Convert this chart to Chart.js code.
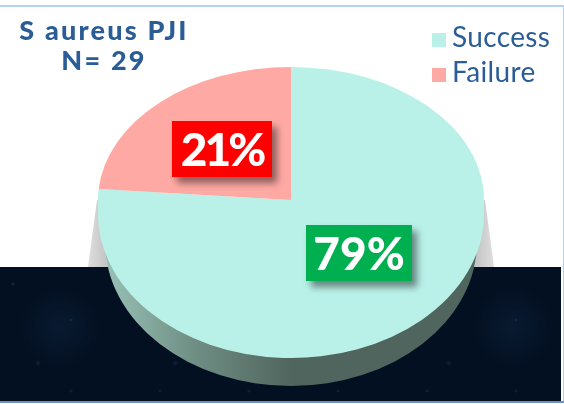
<!DOCTYPE html>
<html>
<head>
<meta charset="utf-8">
<script src="https://cdn.jsdelivr.net/npm/chart.js@4"></script>
<style>
body { margin: 0; background: #fff; width: 564px; height: 404px; overflow: hidden; position: relative; font-family: Lato, sans-serif; }
.frame { position: absolute; left: -3px; top: 5px; width: 564px; height: 394px; border: 2px solid #b7cff0; }
.band {
    position: absolute; left: 0; top: 267px; width: 561px; height: 134px; background-color: #031022;
    background-image:
        radial-gradient(circle 2px at 13px 17px, rgba(70,100,130,.4) 0, transparent 100%),
        radial-gradient(circle 2px at 71px 53px, rgba(60,90,120,.35) 0, transparent 100%),
        radial-gradient(circle 3px at 38px 96px, rgba(50,80,110,.3) 0, transparent 100%),
        radial-gradient(circle 2px at 101px 29px, rgba(60,90,120,.3) 0, transparent 100%),
        radial-gradient(circle 40px at 60px 60px, rgba(20,45,75,.35) 0, transparent 100%);
    background-size: 113px 127px, 89px 71px, 137px 109px, 67px 97px, 151px 131px;
}
.bandline { position: absolute; left: 0; top: 401px; width: 564px; height: 2px; background: #6f92bb; }
canvas { position: absolute; left: 0; top: 0; }
.title { position: absolute; left: 4px; top: 15px; width: 200px; text-align: center; color: #2a5d95; font-weight: 900; font-size: 27px; line-height: 30px; letter-spacing: 2.2px; }
.legend { position: absolute; left: 432px; top: 19px; color: #2a5d95; font-size: 28px; line-height: 34.5px; letter-spacing: .35px; }
.legend div { white-space: nowrap; height: 34.5px; }
.legend i { display: inline-block; width: 14px; height: 14px; margin-right: 6px; }
.tag { position: absolute; height: 56px; line-height: 56px; text-align: center; color: #fff; font-weight: 900; font-size: 46px; box-shadow: 5px 6px 7px rgba(0,0,0,.45); }
</style>
</head>
<body>
<div class="frame"></div>
<div class="band"></div>
<div class="bandline"></div>
<canvas id="pie" width="564" height="404"></canvas>
<div class="title">S aureus PJI<br>N= 29</div>
<div class="legend" id="legend"></div>
<div class="tag" id="tag0" style="left:306px;top:225px;width:106px;"></div>
<div class="tag" id="tag1" style="left:172px;top:121px;width:100px;letter-spacing:-3px;"></div>
<script>
const categories = ['Success', 'Failure'];
const values = [79, 21];
const sliceColors = ['#b9f1e8', '#ffa9a4'];
const tagColors = ['#00b050', '#ff0000'];

// squash of the circle into the tilted disc of the original
const topScale = 133 / 193;
const bottomScale = 144 / 193;
const bottomDrop = 14;
const rimDepth = 28;
const rimInset = 7;
// the tilt makes the failure wedge look wider than its true share
const wedgeTilt = 9.7 * Math.PI / 180;

const tiltedPie = {
    id: 'tiltedPie',
    afterDatasetUpdate(chart) {
        const arcs = chart.getDatasetMeta(0).data;
        arcs[0].endAngle -= wedgeTilt;
        arcs[1].startAngle -= wedgeTilt;
    },
    beforeDatasetsDraw(chart) {
        const ctx = chart.ctx;
        const meta = chart.getDatasetMeta(0);
        const { x, y, outerRadius: r } = meta.data[0];

        // grey shadow falling behind the disc
        [-1, 1].forEach(side => {
            const grad = ctx.createLinearGradient(x + side * (r - 8), 0, x + side * (r + 10), 0);
            grad.addColorStop(0, '#c4c4c4');
            grad.addColorStop(1, '#dedede');
            ctx.fillStyle = grad;
            ctx.beginPath();
            ctx.moveTo(x + side * (r - 4), y);
            ctx.lineTo(x + side * (r + 1), y);
            ctx.lineTo(x + side * (r + 10), y + 67);
            ctx.lineTo(x + side * (r - 25), y + 67);
            ctx.closePath();
            ctx.fill();
        });

        // side of the disc
        const rimR = r - rimInset;
        const rimY = y + bottomDrop + rimDepth;
        const rim = ctx.createLinearGradient(x - r, 0, x, 0);
        rim.addColorStop(0, '#9cc5b9');
        rim.addColorStop(0.5, '#6f8e84');
        rim.addColorStop(1, '#50655e');
        ctx.fillStyle = rim;
        ctx.beginPath();
        ctx.ellipse(x, rimY, rimR, r * bottomScale, 0, 0, Math.PI);
        ctx.lineTo(x + rimR, rimY);
        ctx.closePath();
        ctx.fill();

        // top face: upper half about the apex, lower half (all success) dropped a little
        const pieces = [[0, y + 0.5, y, topScale], [y + bottomDrop - 0.5, chart.height, y + bottomDrop, bottomScale]];
        pieces.forEach(([from, to, centre, scale]) => {
            ctx.save();
            ctx.beginPath();
            ctx.rect(0, from, chart.width, to - from);
            ctx.clip();
            ctx.translate(0, centre);
            ctx.scale(1, scale);
            ctx.translate(0, -y);
            meta.controller.draw();
            ctx.restore();
        });
        ctx.fillStyle = sliceColors[0];
        ctx.fillRect(x - r, y, 2 * r, bottomDrop);
        return false;
    }
};

new Chart(document.getElementById('pie'), {
    type: 'pie',
    data: {
        labels: categories,
        datasets: [{ data: values, backgroundColor: sliceColors, borderWidth: 0 }]
    },
    options: {
        responsive: false,
        animation: false,
        layout: { padding: { left: 98, right: 80, top: 7, bottom: 11 } },
        plugins: { legend: { display: false }, tooltip: { enabled: false } }
    },
    plugins: [tiltedPie]
});

// legend and value tags
document.getElementById('legend').innerHTML = categories.map((name, i) =>
    `<div><i style="background:${sliceColors[i]}"></i>${name}</div>`).join('');
values.forEach((v, i) => {
    const tag = document.getElementById('tag' + i);
    tag.textContent = v + '%';
    tag.style.background = tagColors[i];
});
</script>
</body>
</html>
